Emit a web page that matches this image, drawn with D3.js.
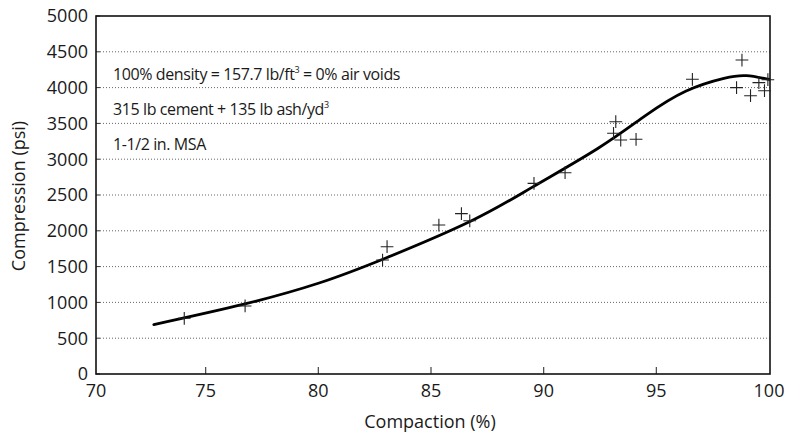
<!DOCTYPE html>
<html><head><meta charset="utf-8">
<script src="https://cdn.jsdelivr.net/npm/d3@7/dist/d3.min.js"></script>
<style>body{margin:0;background:#fff}</style>
</head><body>
<svg id="c" width="788" height="435"></svg>
<script>
const xTicks = [70, 75, 80, 85, 90, 95, 100];
const yTicks = [0, 500, 1000, 1500, 2000, 2500, 3000, 3500, 4000, 4500, 5000];
const pointX = [74.05, 76.75, 82.85, 83.05, 85.35, 86.35, 86.72, 89.57, 90.95, 93.1, 93.2, 93.42, 94.1, 96.6, 98.56, 98.8, 99.18, 99.55, 99.8, 99.95];
const pointY = [778, 950, 1592, 1778, 2080, 2240, 2140, 2663, 2811, 3362, 3524, 3268, 3278, 4116, 3999, 4385, 3887, 4069, 3957, 4110];
const curveX = [72.7, 76.7, 80.0, 83.0, 86.8, 89.5, 92.4, 94.5, 96.3, 98.0, 99.0, 100];
const curveY = [690, 975, 1267, 1620, 2140, 2610, 3150, 3606, 3950, 4130, 4166, 4115];
const xLabel = "Compaction (%)";
const yLabel = "Compression (psi)";
const notes = [
  ["100% density = 157.7 lb/ft", "3", " = 0% air voids"],
  ["315 lb cement + 135 lb ash/yd", "3", ""],
  ["1-1/2 in. MSA", "", ""]
];

const font = "'Open Sans', sans-serif";
const svg = d3.select("#c");
const L = 96, R = 770, T = 16, B = 374;
const x = d3.scaleLinear().domain([70, 100]).range([93, 769]);
const y = d3.scaleLinear().domain([0, 5000]).range([B, T]);

// gridlines
svg.append("g").selectAll("line").data(yTicks.filter(v => v > 0 && v < 5000)).join("line")
  .attr("x1", L + 4).attr("x2", R).attr("y1", d => y(d)).attr("y2", d => y(d))
  .attr("stroke", "#666").attr("stroke-width", 1).attr("stroke-dasharray", "1,2");
// short y ticks
svg.append("g").selectAll("line").data(yTicks).join("line")
  .attr("x1", L).attr("x2", L + 4).attr("y1", d => y(d)).attr("y2", d => y(d))
  .attr("stroke", "#333").attr("stroke-width", 1);
// x ticks (inward)
svg.append("g").selectAll("line").data(xTicks.filter(v => v > 70 && v < 100)).join("line")
  .attr("x1", d => x(d)).attr("x2", d => x(d)).attr("y1", B).attr("y2", B - 7)
  .attr("stroke", "#444").attr("stroke-width", 1.2);

// frame
svg.append("rect").attr("x", L).attr("y", T).attr("width", R - L).attr("height", B - T)
  .attr("fill", "none").attr("stroke", "#111").attr("stroke-width", 1.6);

// tick labels
svg.append("g").selectAll("text").data(yTicks).join("text")
  .attr("x", 88).attr("y", d => y(d)).attr("dy", "0.36em")
  .attr("text-anchor", "end").attr("font-family", font).attr("font-size", 18).attr("fill", "#1a1a1a")
  .text(d => d);
svg.append("g").selectAll("text").data(xTicks).join("text")
  .attr("x", d => d === 70 ? L : x(d)).attr("y", 397)
  .attr("text-anchor", "middle").attr("font-family", font).attr("font-size", 18).attr("fill", "#1a1a1a")
  .text(d => d);

// axis labels
svg.append("text").attr("x", 430).attr("y", 428).attr("text-anchor", "middle")
  .attr("font-family", font).attr("font-size", 18).attr("fill", "#1a1a1a").text(xLabel);
svg.append("text").attr("transform", "translate(25,196) rotate(-90)").attr("text-anchor", "middle")
  .attr("font-family", font).attr("font-size", 18).attr("fill", "#1a1a1a").text(yLabel);

// notes
const nt = svg.append("g").selectAll("text").data(notes).join("text")
  .attr("x", 113).attr("y", (d, i) => 80 + i * 35)
  .attr("font-family", font).attr("font-size", 16).attr("letter-spacing", -0.4).attr("fill", "#1a1a1a");
nt.append("tspan").text(d => d[0]);
nt.append("tspan").attr("font-size", 9).attr("dy", -7).text(d => d[1]);
nt.append("tspan").attr("dy", 7).text(d => d[2]);

// curve
const curveData = curveX.map((v, i) => [v, curveY[i]]);
svg.append("path").datum(curveData)
  .attr("d", d3.line().x(d => x(d[0])).y(d => y(d[1])).curve(d3.curveNatural))
  .attr("fill", "none").attr("stroke", "#000").attr("stroke-width", 2.8).attr("stroke-linecap", "round");

// points
const pts = pointX.map((v, i) => [v, pointY[i]]);
svg.append("g").selectAll("path").data(pts).join("path")
  .attr("transform", d => `translate(${x(d[0])},${y(d[1])})`)
  .attr("d", d3.symbol(d3.symbolPlus, 55))
  .attr("fill", "none").attr("stroke", "#222").attr("stroke-width", 1.1);
</script>
</body></html>
